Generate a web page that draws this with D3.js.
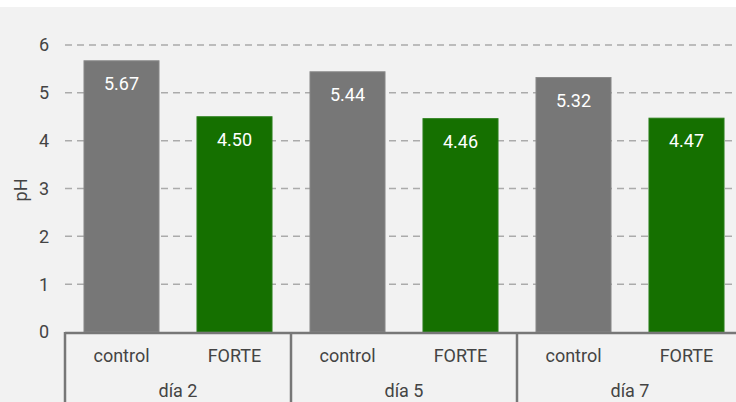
<!DOCTYPE html>
<html><head><meta charset="utf-8">
<script src="https://cdn.jsdelivr.net/npm/d3@7"></script>
<style>body{margin:0;background:#fff}svg{display:block}text{font-family:Roboto,"Noto Sans",sans-serif}</style>
</head><body>
<svg id="c" width="736" height="402"></svg>
<script>
const groups = ["día 2", "día 5", "día 7"];
const treatments = ["control", "FORTE"];
const controlValues = [5.67, 5.44, 5.32];
const forteValues = [4.50, 4.46, 4.47];
const yTicks = [0, 1, 2, 3, 4, 5, 6];
const colors = {control: "#777777", FORTE: "#157000"};

const data = [];
groups.forEach((g, i) => {
  data.push({group: g, cat: "control", key: g + "|control", value: controlValues[i]});
  data.push({group: g, cat: "FORTE", key: g + "|FORTE", value: forteValues[i]});
});

const svg = d3.select("#c");
svg.append("rect").attr("x", 0).attr("y", 7).attr("width", 736).attr("height", 395).attr("fill", "#f2f2f2");

const left = 65, right = 743, y0 = 332, yTop = 45;
const y = d3.scaleLinear().domain([0, 6]).range([y0, yTop]);
const x = d3.scaleBand().domain(data.map(d => d.key)).range([left, right]).paddingInner(0.336).paddingOuter(0.168);
const gx = d3.scaleBand().domain(groups).range([left, right]);

// grid
svg.append("g").selectAll("line").data(yTicks.filter(t => t > 0)).join("line")
  .attr("x1", left).attr("x2", 736).attr("y1", d => y(d)).attr("y2", d => y(d))
  .attr("stroke", "#ababab").attr("stroke-width", 1.5).attr("stroke-dasharray", "7,5");

// y tick labels
svg.append("g").selectAll("text").data(yTicks).join("text")
  .attr("x", 49).attr("y", d => y(d)).attr("dy", "0.36em").attr("text-anchor", "end")
  .attr("font-size", 18).attr("fill", "#444").text(d => d);

svg.append("text").attr("transform", "translate(27,190) rotate(-90)").attr("text-anchor", "middle")
  .attr("font-size", 18).attr("fill", "#444").text("pH");

// bars
svg.append("g").selectAll("rect").data(data).join("rect")
  .attr("x", d => x(d.key)).attr("width", x.bandwidth())
  .attr("y", d => y(d.value)).attr("height", d => y(0) - y(d.value))
  .attr("fill", d => colors[d.cat])
  .attr("stroke", d => d.cat === "control" ? "#8a8a8a" : "#2a7f1a").attr("stroke-width", 1);

svg.append("g").selectAll("text").data(data).join("text")
  .attr("x", d => x(d.key) + x.bandwidth() / 2).attr("y", d => y(d.value) + 29)
  .attr("text-anchor", "middle").attr("font-size", 18).attr("fill", "#fff")
  .text(d => d.value.toFixed(2));

// axis
svg.append("line").attr("x1", left).attr("x2", 736).attr("y1", y0 + 1).attr("y2", y0 + 1)
  .attr("stroke", "#777").attr("stroke-width", 2.5);
svg.append("g").selectAll("line").data(groups).join("line")
  .attr("x1", d => gx(d)).attr("x2", d => gx(d)).attr("y1", y0).attr("y2", 402)
  .attr("stroke", "#777").attr("stroke-width", 2.5);

svg.append("g").selectAll("text").data(data).join("text")
  .attr("x", d => x(d.key) + x.bandwidth() / 2).attr("y", 356).attr("dy", "0.36em")
  .attr("text-anchor", "middle").attr("font-size", 18).attr("fill", "#444").text(d => d.cat);

svg.append("g").selectAll("text").data(groups).join("text")
  .attr("x", d => gx(d) + gx.bandwidth() / 2).attr("y", 391).attr("dy", "0.36em")
  .attr("text-anchor", "middle").attr("font-size", 18).attr("fill", "#444").text(d => d);
</script>
</body></html>
